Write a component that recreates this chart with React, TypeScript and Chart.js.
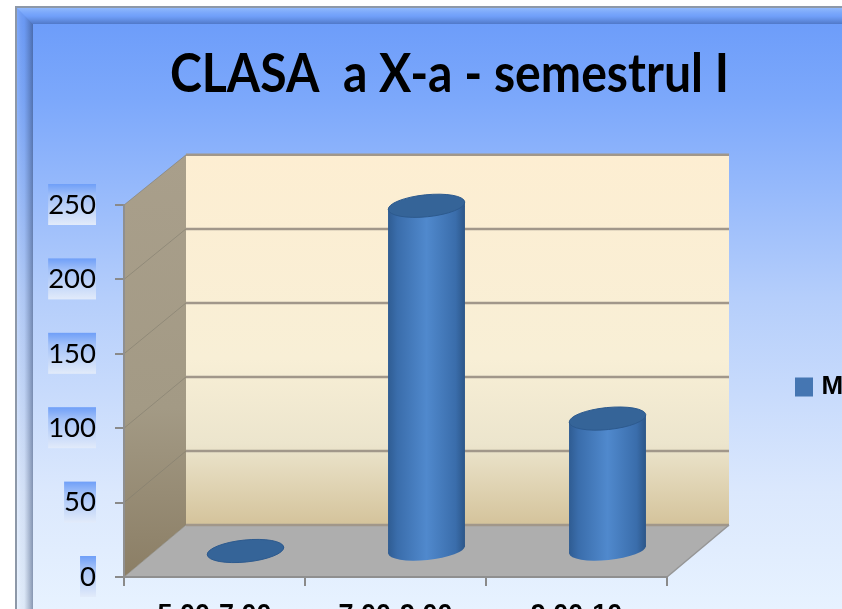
import React, { useEffect, useRef } from "react";
import { Chart, registerables } from "chart.js";

Chart.register(...registerables);

const TITLE = "CLASA  a X-a - semestrul I";
const SERIES_NAME = "Media";
const CATEGORIES = ["5,00-7,00", "7,00-9,00", "9,00-10"];
const VALUES = [0, 232, 89];
const GRID_VALUES = [0, 50, 100, 150, 200, 250];

const PLOT_BOTTOM = 577;
const DEPTH_X = 62;
const DEPTH_Y = -52;
const BACK_SCALE = 0.995;
const BAR_DX = 31;
const BAR_DY = -26;
const CAP_RY = 10;
const CAP_ROT = -0.1;
const TILT = 3.8;

function barGradient(chart: any, i: number) {
  const cx = chart.scales.x.getPixelForValue(i);
  const half = chart.scales.x.width / CATEGORIES.length * 0.425 / 2;
  const g = chart.ctx.createLinearGradient(cx - half, 0, cx + half, 0);
  g.addColorStop(0, "#2f5c92");
  g.addColorStop(0.12, "#3a6dab");
  g.addColorStop(0.5, "#5089cd");
  g.addColorStop(0.88, "#3a6dab");
  g.addColorStop(1, "#2c5688");
  return g;
}

const scene = {
  id: "scene",
  beforeDraw(chart: any) {
    const { ctx, width, height } = chart;
    const x = chart.scales.x;
    const y = chart.scales.y;
    ctx.save();
    ctx.fillStyle = "#ffffff";
    ctx.fillRect(0, 0, width, height);

    // panel
    const bg = ctx.createLinearGradient(0, 23, 0, height);
    bg.addColorStop(0, "#6d9dfa");
    bg.addColorStop(0.13, "#7ca8fb");
    bg.addColorStop(0.47, "#b5cefb");
    bg.addColorStop(0.8, "#dbe8fd");
    bg.addColorStop(1, "#e7f2ff");
    ctx.fillStyle = bg;
    ctx.fillRect(15, 6, width - 15, height - 6);

    // bevel
    const leftB = ctx.createLinearGradient(17, 0, 33, 0);
    leftB.addColorStop(0, "rgba(255,255,255,0.12)");
    leftB.addColorStop(0.45, "rgba(60,80,120,0.06)");
    leftB.addColorStop(1, "rgba(40,60,100,0.5)");
    ctx.fillStyle = leftB;
    ctx.beginPath();
    ctx.moveTo(17, 8);
    ctx.lineTo(33, 24);
    ctx.lineTo(33, height);
    ctx.lineTo(17, height);
    ctx.closePath();
    ctx.fill();
    const topB = ctx.createLinearGradient(0, 8, 0, 24);
    topB.addColorStop(0, "rgba(170,205,255,0.6)");
    topB.addColorStop(0.5, "rgba(120,165,250,0.35)");
    topB.addColorStop(1, "rgba(40,70,130,0.42)");
    ctx.fillStyle = topB;
    ctx.beginPath();
    ctx.moveTo(17, 8);
    ctx.lineTo(width, 8);
    ctx.lineTo(width, 24);
    ctx.lineTo(33, 24);
    ctx.closePath();
    ctx.fill();
    ctx.fillStyle = "#8d98a8";
    ctx.fillRect(15, 6, width - 15, 2);
    ctx.fillRect(15, 6, 2, height - 6);

    // tick label plates
    const f = y.options.ticks.font;
    ctx.font = f.weight + " " + f.size + "px " + f.family;
    y.ticks.forEach((t: any) => {
      const py = y.getPixelForValue(t.value);
      const w = ctx.measureText(String(t.value)).width;
      const g = ctx.createLinearGradient(0, py - 21, 0, py + 20);
      g.addColorStop(0, "#6f9ff8");
      g.addColorStop(0.3, "#a4c2f8");
      g.addColorStop(1, "#e2ebfa");
      ctx.fillStyle = g;
      ctx.fillRect(96 - w, py - 21, w, 41);
    });

    const x0 = x.left;
    const x1 = x.right;
    const y0 = y.getPixelForValue(0);
    const yTop = y.getPixelForValue(250);
    const backY = (py: number) => y0 + DEPTH_Y - (y0 - py) * BACK_SCALE;

    // back wall
    const back = ctx.createLinearGradient(0, backY(yTop), 0, backY(y0));
    back.addColorStop(0, "#fdeed2");
    back.addColorStop(0.55, "#f8efd6");
    back.addColorStop(0.78, "#ece5cd");
    back.addColorStop(1, "#d4c39b");
    ctx.fillStyle = back;
    ctx.fillRect(x0 + DEPTH_X, backY(yTop), x1 - x0, backY(y0) - backY(yTop));

    // side wall
    const side = ctx.createLinearGradient(0, backY(yTop), 0, y0);
    side.addColorStop(0, "#a99f8b");
    side.addColorStop(0.6, "#a39a85");
    side.addColorStop(1, "#8b7e65");
    ctx.fillStyle = side;
    ctx.beginPath();
    ctx.moveTo(x0, yTop);
    ctx.lineTo(x0 + DEPTH_X, backY(yTop));
    ctx.lineTo(x0 + DEPTH_X, backY(y0));
    ctx.lineTo(x0, y0);
    ctx.closePath();
    ctx.fill();

    // floor
    ctx.fillStyle = "#aeaeae";
    ctx.beginPath();
    ctx.moveTo(x0, y0);
    ctx.lineTo(x0 + DEPTH_X, backY(y0));
    ctx.lineTo(x1 + DEPTH_X, backY(y0));
    ctx.lineTo(x1, y0);
    ctx.closePath();
    ctx.fill();

    // gridlines on the walls
    GRID_VALUES.forEach((v) => {
      const py = y.getPixelForValue(v);
      ctx.strokeStyle = "rgba(130,125,110,0.6)";
      ctx.lineWidth = 1;
      ctx.beginPath();
      ctx.moveTo(x0, py);
      ctx.lineTo(x0 + DEPTH_X, backY(py));
      ctx.stroke();
      ctx.strokeStyle = "#a1978a";
      ctx.lineWidth = 2.5;
      ctx.beginPath();
      ctx.moveTo(x0 + DEPTH_X, backY(py));
      ctx.lineTo(x1 + DEPTH_X, backY(py));
      ctx.stroke();
    });
    ctx.strokeStyle = "#969696";
    ctx.lineWidth = 1.5;
    ctx.beginPath();
    ctx.moveTo(x1, y0);
    ctx.lineTo(x1 + DEPTH_X, backY(y0));
    ctx.stroke();
    ctx.restore();
  },
  afterLayout(chart: any) {
    // settle the plot box on the reference's axis line
    const x = chart.scales.x;
    const y = chart.scales.y;
    y.bottom = PLOT_BOTTOM;
    y.height = PLOT_BOTTOM - y.top;
    y.configure();
    x.top = PLOT_BOTTOM;
    x.bottom = chart.height;
    x.height = chart.height - PLOT_BOTTOM;
    x.configure();
    chart.chartArea.bottom = PLOT_BOTTOM;
    chart.chartArea.height = PLOT_BOTTOM - chart.chartArea.top;

    const l = chart.legend;
    if (l) {
      l.left = 795;
      l.right = 842;
      l.top = 369.5;
      l.bottom = 420;
    }
    const t = chart.titleBlock;
    if (t) {
      t.left = 170;
      t.right = 729;
    }
  },
  beforeDatasetDraw(chart: any) {
    const { ctx, width, height } = chart;
    ctx.save();
    ctx.translate(BAR_DX, BAR_DY);
    const bars = chart.getDatasetMeta(0).data;
    // rounded foot of each cylinder
    bars.forEach((bar: any, i: number) => {
      const l = bar.x - bar.width / 2;
      ctx.fillStyle = barGradient(chart, i);
      ctx.beginPath();
      ctx.ellipse(bar.x, bar.base, bar.width / 2, CAP_RY, CAP_ROT, 0, Math.PI * 2);
      ctx.fill();
      if (bar.base - bar.y > 1) {
        ctx.beginPath();
        ctx.moveTo(l, bar.base - 1);
        ctx.lineTo(l, bar.base + TILT);
        ctx.lineTo(bar.x, bar.base);
        ctx.closePath();
        ctx.fill();
      }
    });
    // keep the square corners of each bar from showing past the tilted ends
    ctx.save();
    ctx.beginPath();
    ctx.rect(-BAR_DX, -BAR_DY - height, width, height * 2);
    bars.forEach((bar: any) => {
      if (bar.base - bar.y <= 1) return;
      const l = bar.x - bar.width / 2;
      const r = bar.x + bar.width / 2;
      ctx.moveTo(l - 1, bar.y - 1);
      ctx.lineTo(l - 1, bar.y + TILT);
      ctx.lineTo(l + 10, bar.y - 1);
      ctx.closePath();
      ctx.moveTo(r + 1, bar.base + 1);
      ctx.lineTo(r + 1, bar.base - TILT);
      ctx.lineTo(r - 10, bar.base + 1);
      ctx.closePath();
    });
    ctx.clip("evenodd");
  },
  afterDatasetDraw(chart: any) {
    const { ctx } = chart;
    ctx.restore();
    chart.getDatasetMeta(0).data.forEach((bar: any, i: number) => {
      if (bar.base - bar.y > 1) {
        // shoulder on the raised side of the tilted top
        const r = bar.x + bar.width / 2;
        ctx.fillStyle = barGradient(chart, i);
        ctx.beginPath();
        ctx.moveTo(r, bar.y + 1);
        ctx.lineTo(r, bar.y - TILT);
        ctx.lineTo(bar.x, bar.y);
        ctx.closePath();
        ctx.fill();
      }
      // top cap
      ctx.fillStyle = "#356498";
      ctx.strokeStyle = "#2d5a8e";
      ctx.lineWidth = 1;
      ctx.beginPath();
      ctx.ellipse(bar.x, bar.y, bar.width / 2, CAP_RY + 1, CAP_ROT, 0, Math.PI * 2);
      ctx.fill();
      ctx.stroke();
    });
    ctx.restore();
  },
};

export default function App() {
  const ref = useRef<HTMLCanvasElement>(null);
  useEffect(() => {
    document.body.style.margin = "0";
    document.body.style.overflow = "hidden";
    const chart = new Chart(ref.current!, {
      type: "bar",
      data: {
        labels: CATEGORIES,
        datasets: [
          {
            label: SERIES_NAME,
            data: VALUES,
            categoryPercentage: 1,
            barPercentage: 0.425,
            clip: false,
            borderWidth: 0,
            backgroundColor: (c: any) =>
              c.type === "data" && c.chart.chartArea ? barGradient(c.chart, c.dataIndex) : "#4a7ebb",
          } as any,
        ],
      },
      options: {
        animation: false,
        responsive: false,
        layout: { autoPadding: false, padding: { left: 0, right: 175, top: 0, bottom: 0 } },
        plugins: {
          tooltip: { enabled: false },
          title: {
            display: true,
            text: TITLE,
            color: "#000000",
            align: "start",
            font: { family: "Lato", size: 54, weight: "bold", lineHeight: 1 },
            padding: { top: 48, bottom: 103 },
          },
          legend: {
            position: "chartArea" as any,
            align: "start",
            labels: {
              boxWidth: 9,
              boxHeight: 10,
              padding: 4.5,
              color: "#000000",
              font: { family: "Liberation Sans", size: 26, weight: "bold" },
              generateLabels: () => [
                {
                  text: SERIES_NAME,
                  fillStyle: "#4576b2",
                  strokeStyle: "#4576b2",
                  lineWidth: 9,
                  datasetIndex: 0,
                },
              ],
            },
          },
        },
        scales: {
          x: {
            grid: { drawOnChartArea: false, drawTicks: true, tickLength: 9, color: "#8a8a8a", lineWidth: 2 },
            border: { color: "#8f8f8f", width: 2 },
            ticks: {
              color: "#000000",
              padding: 13,
              autoSkip: false,
              maxRotation: 0,
              font: { family: "Liberation Sans", size: 27, weight: "bold" },
            },
            afterFit: (s: any) => {
              s.height = 32;
            },
          },
          y: {
            min: 0,
            max: 250,
            grid: { drawOnChartArea: false, drawTicks: true, tickLength: 9, color: "#8a8a8a", lineWidth: 2 },
            border: { color: "#8f8f8f", width: 2 },
            ticks: {
              stepSize: 50,
              color: "#000000",
              padding: 19,
              font: { family: "Lato", size: 27.5, weight: "normal" },
            },
            afterFit: (s: any) => {
              s.width = 124;
            },
          },
        },
      },
      plugins: [scene],
    } as any);
    return () => chart.destroy();
  }, []);
  return (
    <div style={{ position: "absolute", left: 0, top: 0, width: 842, height: 609, overflow: "hidden" }}>
      <canvas ref={ref} width={842} height={609} style={{ display: "block" }} />
    </div>
  );
}
